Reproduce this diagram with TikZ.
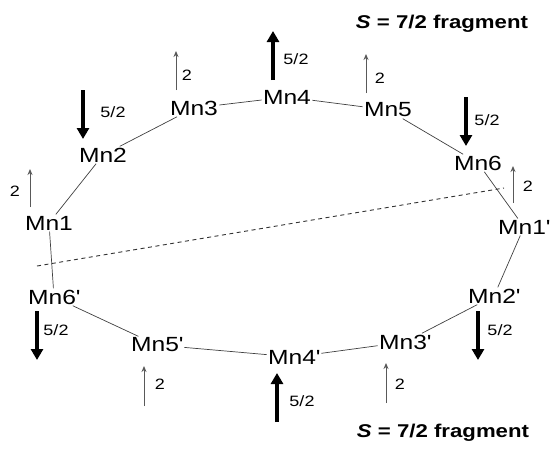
\documentclass[tikz,border=0pt]{standalone}
\usepackage{fontspec}
\setmainfont{Liberation Sans}[FakeStretch=1.2]
\usetikzlibrary{arrows.meta}
\begin{document}
\begin{tikzpicture}[x=1pt,y=-1pt,
  mn/.style={font=\fontsize{20.5}{20.5}\selectfont, inner sep=1.5pt, outer sep=0pt},
  spinlbl/.style={font=\fontsize{15}{15}\selectfont, inner sep=0pt},
  title/.style={font=\fontsize{18.5}{18.5}\selectfont\bfseries, inner sep=0pt},
  bond/.style={draw=black!75, line width=0.7pt},
  bigspin/.style={line width=4pt, -{Triangle[width=12pt,length=11pt]}},
  smallspin/.style={draw=black!65, line width=1pt, -{Stealth[width=5pt,length=6pt]}},
  cut/.style={draw=black!80, line width=0.9pt, dash pattern=on 4pt off 3.5pt}]
\useasboundingbox (0,0) rectangle (552,448);

% titles
\node[title] (t1) at (442,24) {\textit{S} = 7/2 fragment};
\node[title] (t2) at (443,433) {\textit{S} = 7/2 fragment};

% Mn nodes
\node[mn] (m1)  at (49,223)  {Mn1};
\node[mn] (m2)  at (103,155) {Mn2};
\node[mn] (m3)  at (194,108) {Mn3};
\node[mn] (m4)  at (287,97)  {Mn4};
\node[mn] (m5)  at (388,110) {Mn5};
\node[mn] (m6)  at (478,163) {Mn6};
\node[mn] (m1p) at (524,227) {Mn1\textquotesingle};
\node[mn] (m2p) at (494,296) {Mn2\textquotesingle};
\node[mn] (m3p) at (405,342) {Mn3\textquotesingle};
\node[mn] (m4p) at (294,357) {Mn4\textquotesingle};
\node[mn] (m5p) at (157,345) {Mn5\textquotesingle};
\node[mn] (m6p) at (54,297)  {Mn6\textquotesingle};

% ring bonds
\draw[bond] (m1) -- (m2);
\draw[bond] (m2) -- (m3);
\draw[bond] (m3) -- (m4);
\draw[bond] (m4) -- (m5);
\draw[bond] (m5) -- (m6);
\draw[bond] (m6) -- (m1p);
\draw[bond] (m1p) -- (m2p);
\draw[bond] (m2p) -- (m3p);
\draw[bond] (m3p) -- (m4p);
\draw[bond] (m4p) -- (m5p);
\draw[bond] (m5p) -- (m6p);
\draw[bond] (m6p) -- (m1);

% dividing dashed line
\coordinate (cutA) at (37,266);
\coordinate (cutB) at (504,188);
\draw[cut] (cutA) -- (cutB);

% spin arrows
\coordinate (s1a) at (30,207);  \coordinate (s1b) at (30,169);
\draw[smallspin] (s1a) -- (s1b);
\node[spinlbl] (l1) at (15,191) {2};

\coordinate (s2a) at (83,90);   \coordinate (s2b) at (83,139);
\draw[bigspin] (s2a) -- (s2b);
\node[spinlbl] (l2) at (113,112) {5/2};

\coordinate (s3a) at (176,90);  \coordinate (s3b) at (176,51);
\draw[smallspin] (s3a) -- (s3b);
\node[spinlbl] (l3) at (187,75) {2};

\coordinate (s4a) at (273,80);  \coordinate (s4b) at (273,31);
\draw[bigspin] (s4a) -- (s4b);
\node[spinlbl] (l4) at (296,59) {5/2};

\coordinate (s5a) at (366,93);  \coordinate (s5b) at (366,54);
\draw[smallspin] (s5a) -- (s5b);
\node[spinlbl] (l5) at (380,78) {2};

\coordinate (s6a) at (466,97);  \coordinate (s6b) at (466,146);
\draw[bigspin] (s6a) -- (s6b);
\node[spinlbl] (l6) at (487,120) {5/2};

\coordinate (s1pa) at (513,203); \coordinate (s1pb) at (513,166);
\draw[smallspin] (s1pa) -- (s1pb);
\node[spinlbl] (l1p) at (528,186) {2};

\coordinate (s2pa) at (478,311); \coordinate (s2pb) at (478,360);
\draw[bigspin] (s2pa) -- (s2pb);
\node[spinlbl] (l2p) at (500,330) {5/2};

\coordinate (s3pa) at (386,403); \coordinate (s3pb) at (386,363);
\draw[smallspin] (s3pa) -- (s3pb);
\node[spinlbl] (l3p) at (400,384) {2};

\coordinate (s4pa) at (277,422); \coordinate (s4pb) at (277,373);
\draw[bigspin] (s4pa) -- (s4pb);
\node[spinlbl] (l4p) at (302,401) {5/2};

\coordinate (s5pa) at (144,406); \coordinate (s5pb) at (144,366);
\draw[smallspin] (s5pa) -- (s5pb);
\node[spinlbl] (l5p) at (160,384) {2};

\coordinate (s6pa) at (37,311); \coordinate (s6pb) at (37,360);
\draw[bigspin] (s6pa) -- (s6pb);
\node[spinlbl] (l6p) at (56,330) {5/2};
\end{tikzpicture}
\end{document}
